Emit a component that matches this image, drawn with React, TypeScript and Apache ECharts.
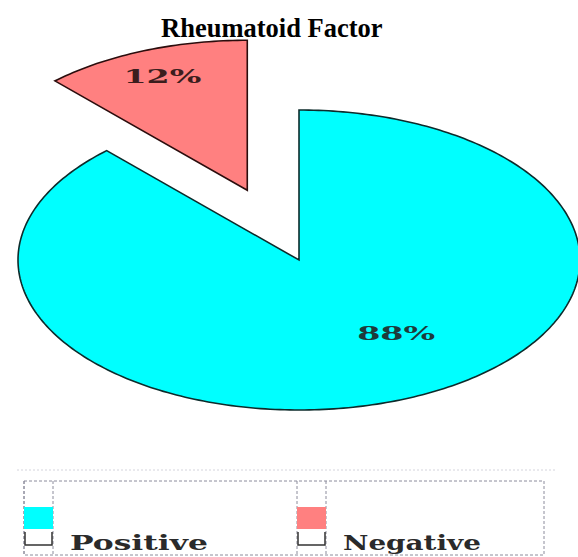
import React, { useEffect, useRef } from "react";
import * as echarts from "echarts";

const TITLE = "Rheumatoid Factor";
const CATEGORIES = ["Positive", "Negative"];
const VALUES = [88, 12];
const COLORS = ["#00FFFF", "#FF8080"];
const STROKES = ["#0d2b2b", "#2b0d0d"];

// layout constants
const CX = 299;
const CY = 260;
const RX = 281;
const RY = 150;
const EXPLODE = [0, 0.5];
const LABEL_PLACE = [
  { shift: -13.6, r: 0.6 },
  { shift: 0, r: 0.82 },
];
const FONT = "DejaVu Serif";
const LABEL_WIDTH = 78;
const LEGEND_WIDTH = 138;

function measure(text: string, fontSize: number, fontWeight: string) {
  const t = new (echarts.graphic as any).Text({
    style: { text, fontSize, fontFamily: FONT, fontWeight },
  });
  return t.getBoundingRect().width || 1;
}

export default function App() {
  const ref = useRef<HTMLDivElement>(null);
  useEffect(() => {
    if (!ref.current) return;
    const chart = echarts.init(ref.current, null, { renderer: "svg" });
    const total = VALUES.reduce((a, b) => a + b, 0);
    const cum: number[] = [];
    let acc = 0;
    VALUES.forEach((v) => {
      cum.push(acc);
      acc += v;
    });

    const legendEls: any[] = [
      {
        type: "line",
        shape: { x1: 17, y1: 470, x2: 555, y2: 470 },
        style: { stroke: "#d4d4dc", lineDash: [2, 2], lineWidth: 1 },
      },
      {
        type: "rect",
        shape: { x: 24, y: 481, width: 520, height: 74 },
        style: { fill: "none", stroke: "#8c8c9c", lineDash: [3, 2], lineWidth: 1 },
      },
    ];
    CATEGORIES.forEach((name, i) => {
      const sx = 24 + i * 273;
      const w = measure(name, 20, "bold");
      legendEls.push(
        {
          type: "line",
          shape: { x1: sx, y1: 481, x2: sx, y2: 555 },
          style: { stroke: "#8c8c9c", lineDash: [3, 2], lineWidth: 1 },
        },
        {
          type: "line",
          shape: { x1: sx + 29, y1: 481, x2: sx + 29, y2: 555 },
          style: { stroke: "#8c8c9c", lineDash: [3, 2], lineWidth: 1 },
        },
        {
          type: "rect",
          shape: { x: sx, y: 507, width: 29, height: 22 },
          style: { fill: COLORS[i] },
        },
        {
          type: "polyline",
          shape: { points: [[sx + 1, 532], [sx + 1, 545], [sx + 28, 545], [sx + 28, 532]] },
          style: { stroke: "#333", lineWidth: 1.5, fill: "none" },
        },
        {
          type: "text",
          x: sx + 46,
          y: 542.5,
          scaleX: LEGEND_WIDTH / w,
          style: {
            text: name,
            fontFamily: FONT,
            fontSize: 20,
            fontWeight: "bold",
            fill: "#2a2a2a",
            align: "left",
            verticalAlign: "middle",
          },
        }
      );
    });

    chart.setOption({
      animation: false,
      title: {
        text: TITLE,
        left: 156,
        top: 9,
        textStyle: {
          fontFamily: "Liberation Serif",
          fontWeight: "bold",
          fontSize: 26.5,
          color: "#000",
        },
      },
      graphic: legendEls,
      series: [
        {
          type: "custom",
          coordinateSystem: "none",
          data: VALUES.map((v, i) => ({ name: CATEGORIES[i], value: [v] })),
          renderItem: (params: any, api: any) => {
            const i = params.dataIndex;
            const v = api.value(0);
            const start = (cum[i] / total) * 360;
            const end = start + (v / total) * 360;
            const midDeg = (start + end) / 2;
            const mid = (midDeg * Math.PI) / 180;
            const k = EXPLODE[i];
            const cx = CX + k * RX * Math.sin(mid);
            const cy = CY - k * RY * Math.cos(mid);
            const pts: number[][] = [[cx, cy]];
            const n = Math.max(2, Math.ceil(end - start));
            for (let s = 0; s <= n; s++) {
              const a = ((start + ((end - start) * s) / n) * Math.PI) / 180;
              pts.push([cx + RX * Math.sin(a), cy - RY * Math.cos(a)]);
            }
            const lp = LABEL_PLACE[i];
            const la = ((midDeg + lp.shift) * Math.PI) / 180;
            const lx = cx + lp.r * RX * Math.sin(la);
            const ly = cy - lp.r * RY * Math.cos(la);
            const label = `${Math.round((v / total) * 100)}%`;
            const lw = measure(label, 19, "bold");
            return {
              type: "group",
              children: [
                {
                  type: "polygon",
                  shape: { points: pts },
                  style: {
                    fill: COLORS[i],
                    stroke: STROKES[i],
                    lineWidth: 1.6,
                    lineJoin: "miter",
                  },
                },
                {
                  type: "text",
                  x: lx,
                  y: ly,
                  scaleX: LABEL_WIDTH / lw,
                  style: {
                    text: label,
                    fontFamily: FONT,
                    fontSize: 19,
                    fontWeight: "bold",
                    fill: i === 0 ? "#1d3b3b" : "#3b1d1d",
                    align: "center",
                    verticalAlign: "middle",
                  },
                },
              ],
            };
          },
        },
      ],
    });
    return () => chart.dispose();
  }, []);
  return (
    <div
      ref={ref}
      style={{ position: "fixed", left: 0, top: 0, width: 578, height: 557, background: "#fff" }}
    />
  );
}
